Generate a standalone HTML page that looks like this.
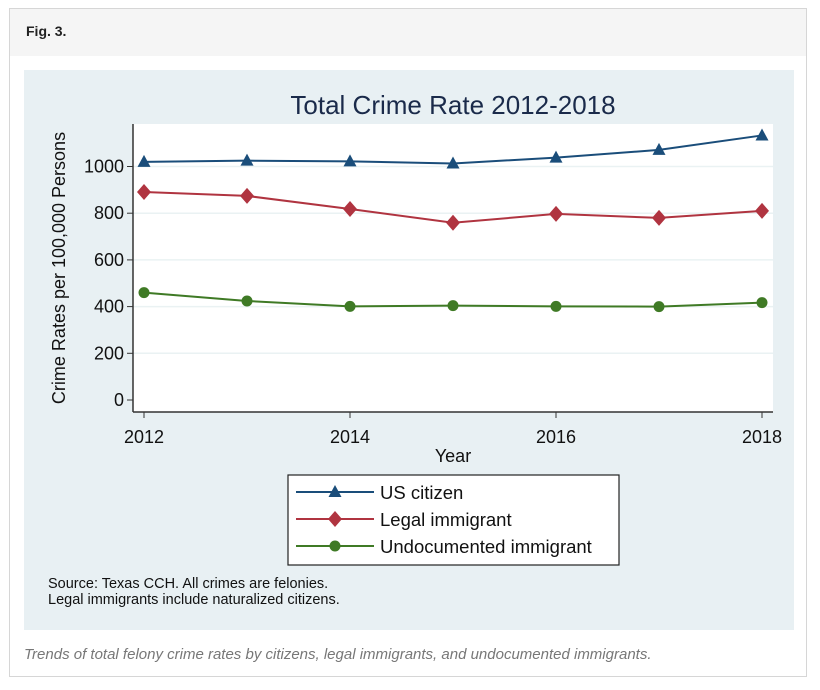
<!DOCTYPE html>
<html><head><meta charset="utf-8"><style>
body{margin:0;background:#fff;width:820px;height:690px;overflow:hidden;font-family:"Liberation Sans",sans-serif}
</style></head><body>
<div style="position:absolute;left:9px;top:8px;width:798px;height:669px;border:1px solid #d6d6d6;box-sizing:border-box"></div>
<div style="position:absolute;left:10px;top:9px;width:796px;height:47px;background:#f5f5f5"></div>
<div style="position:absolute;left:26px;top:23px;font:bold 14px 'Liberation Sans',sans-serif;color:#222">Fig. 3.</div>
<div style="position:absolute;left:24px;top:646px;font:italic 15px 'Liberation Sans',sans-serif;color:#777">Trends of total felony crime rates by citizens, legal immigrants, and undocumented immigrants.</div>
<svg width="820" height="690" style="position:absolute;left:0;top:0" id="chart"></svg>
<script>
const years=[2012,2013,2014,2015,2016,2017,2018];
const usCitizen=[1020,1025,1022,1013,1038,1071,1133];
const legalImm=[891,874,818,759,797,780,810];
const undocImm=[460,424,401,404,401,400,417];
const yTicks=[0,200,400,600,800,1000];
const xTicks=[2012,2014,2016,2018];
const NS='http://www.w3.org/2000/svg';
const svg=document.getElementById('chart');
function el(t,a,p){const e=document.createElementNS(NS,t);for(const k in a)e.setAttribute(k,a[k]);(p||svg).appendChild(e);return e;}
const xS=v=>144+(v-2012)*103;
const yS=v=>400-v*0.2335;
let e;
e=el('rect',{x:24,y:70,width:770,height:560,fill:'#e8f0f3'});


e=el('rect',{x:133,y:124,width:640,height:288,fill:'#fff'});


e=el('text',{x:453,y:114,'text-anchor':'middle','font-size':26,fill:'#1a2a4a','font-family':'Liberation Sans,sans-serif'});e.textContent='Total Crime Rate 2012-2018';


yTicks.forEach(v=>{
  if(v>0){const g=el('line',{x1:133,x2:773,y1:yS(v),y2:yS(v),stroke:'#eaf2f3','stroke-width':1.5});
  
  }
  const t=el('line',{x1:127,x2:133,y1:yS(v),y2:yS(v),stroke:'#333'});
  
  
  const l=el('text',{x:124,y:yS(v)+6,'text-anchor':'end','font-size':18,fill:'#111'});l.textContent=v;
  
  
});
e=el('line',{x1:133,x2:133,y1:124,y2:412,stroke:'#333','stroke-width':1.5});


e=el('line',{x1:133,x2:773,y1:412,y2:412,stroke:'#333','stroke-width':1.5});


xTicks.forEach(v=>{
  const t=el('line',{x1:xS(v),x2:xS(v),y1:412,y2:418,stroke:'#333'});
  
  
  const l=el('text',{x:xS(v),y:443,'text-anchor':'middle','font-size':18,fill:'#111'});l.textContent=v;
  
  
});
e=el('text',{x:453,y:462,'text-anchor':'middle','font-size':18,fill:'#111'});e.textContent='Year';


e=el('text',{x:0,y:0,transform:'translate(65,268) rotate(-90)','text-anchor':'middle','font-size':18,fill:'#111'});e.textContent='Crime Rates per 100,000 Persons';


function marker(kind,x,y,c){
  if(kind==='tri')return el('polygon',{points:`${x},${y-7} ${x-6.5},${y+5} ${x+6.5},${y+5}`,fill:c});
  if(kind==='dia')return el('polygon',{points:`${x},${y-8} ${x+7},${y} ${x},${y+8} ${x-7},${y}`,fill:c});
  return el('circle',{cx:x,cy:y,r:5.5,fill:c});
}
const series=[[usCitizen,'#1a4d7a','tri','us-citizen'],[legalImm,'#b03440','dia','legal-immigrant'],[undocImm,'#3f7a25','dot','undocumented-immigrant']];
series.forEach(([d,c,k,n])=>{
  const p=el('polyline',{points:d.map((v,i)=>xS(years[i])+','+yS(v)).join(' '),fill:'none',stroke:c,'stroke-width':2});
  
  
  d.forEach((v,i)=>{const m=marker(k,xS(years[i]),yS(v),c);
    
    });
});
e=el('rect',{x:288,y:475,width:331,height:90,fill:'#fff',stroke:'#222','stroke-width':1.2});


const labels=['US citizen','Legal immigrant','Undocumented immigrant'];
series.forEach(([d,c,k,n],i)=>{
  const y=492+i*27;
  const l=el('line',{x1:296,x2:374,y1:y,y2:y,stroke:c,'stroke-width':2});
  
  
  const m=marker(k,335,y,c);
  
  
  const t=el('text',{x:380,y:y+7,'font-size':18.5,fill:'#111'});t.textContent=labels[i];
  
  
});
e=el('text',{x:48,y:588,'font-size':14.5,fill:'#111'});e.textContent='Source: Texas CCH. All crimes are felonies.';


e=el('text',{x:48,y:604,'font-size':14.5,fill:'#111'});e.textContent='Legal immigrants include naturalized citizens.';


</script>
</body></html>
